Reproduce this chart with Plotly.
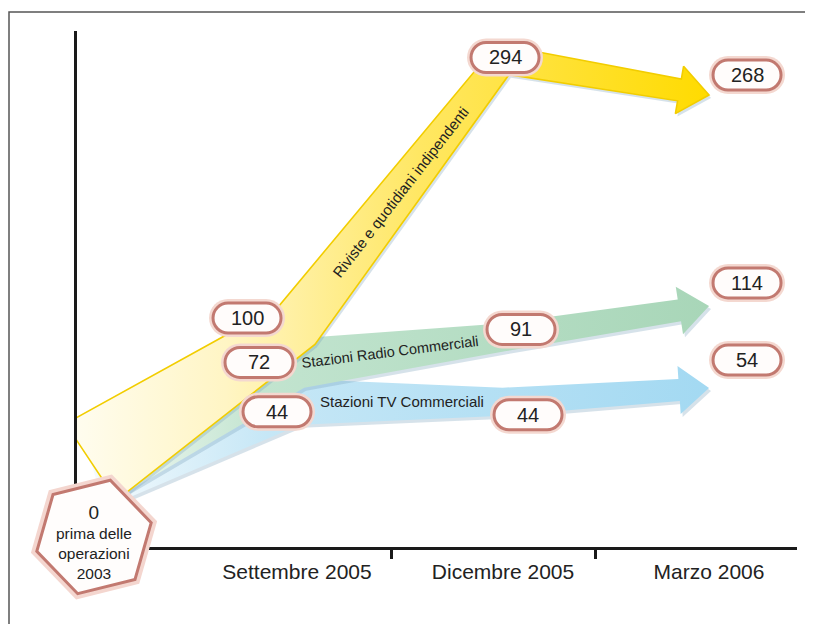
import math
import plotly.graph_objects as go

# data
categories = ["Settembre 2005", "Dicembre 2005", "Marzo 2006"]
x_pos = [0, 1, 2, 3]          # 0 = prima delle operazioni (2003)
riviste = [0, 100, 294, 268]
radio = [0, 72, 91, 114]
tv = [0, 44, 44, 54]
series_names = ["Riviste e quotidiani indipendenti",
                "Stazioni Radio Commerciali",
                "Stazioni TV Commerciali"]
origin_text = ["0", "prima delle", "operazioni", "2003"]

# layout / style (page has an 8px body margin)
W, H = 805, 616
ML, MR, MT, MB = 69, 16, 23, 77
PW, PH = W - ML - MR, H - MT - MB
xr = [-0.068, 3.427]
yr = [-62.1, 314.8]
sx = PW / (xr[1] - xr[0])
sy = PH / (yr[1] - yr[0])
FONT = "Liberation Sans, Arial, Helvetica, sans-serif"

band_widths = [[92, 52, 28, 22], [88, 50, 28, 22], [96, 46, 28, 22]]
head_w, head_len = 48, 30
band_scales = [
    [[0, "#fffdf2"], [0.25, "#fff5c4"], [0.55, "#ffe763"], [1, "#ffdb00"]],
    [[0, "#fbfdfc"], [0.3, "#c2e4cf"], [1, "#a8d6b8"]],
    [[0, "#f8fcfe"], [0.3, "#c6e7f6"], [1, "#a3d9f2"]],
]
band_edge = ["#f2cd00", None, None]
label_dx = [[0, -50, 2, 38], [0, -38, 18, 38], [0, -20, 25, 38]]
label_dy = [[0, 7, 2, 20], [0, 1, 8, 23], [0, -10, -13, 28]]
name_frac = [0.5, 0.45, 0.51]
name_size = [15, 14.5, 15]
sep_ticks = [1.46, 2.45]


def band_polygon(xs, ys, widths):
    P = [(x * sx, y * sy) for x, y in zip(xs, ys)]
    dirs = []
    for i in range(len(P) - 1):
        dx, dy = P[i + 1][0] - P[i][0], P[i + 1][1] - P[i][1]
        L = math.hypot(dx, dy)
        dirs.append((dx / L, dy / L))
    normals = [(-d[1], d[0]) for d in dirs]
    tip = P[-1]
    base = (tip[0] - dirs[-1][0] * head_len, tip[1] - dirs[-1][1] * head_len)
    centre = P[:-1] + [base]
    upper, lower = [], []
    for i, c in enumerate(centre):
        if i == 0:
            n, s = normals[0], 1
        elif i == len(centre) - 1:
            n, s = normals[-1], 1
        else:
            a, b = normals[i - 1], normals[i]
            mx, my = a[0] + b[0], a[1] + b[1]
            m = math.hypot(mx, my)
            n = (mx / m, my / m)
            s = 1 / (n[0] * a[0] + n[1] * a[1])
        h = widths[i] / 2 * s
        upper.append((c[0] + n[0] * h, c[1] + n[1] * h))
        lower.append((c[0] - n[0] * h, c[1] - n[1] * h))
    nl = normals[-1]
    hu = (base[0] + nl[0] * head_w / 2, base[1] + nl[1] * head_w / 2)
    hl = (base[0] - nl[0] * head_w / 2, base[1] - nl[1] * head_w / 2)
    poly = upper + [hu, tip, hl] + lower[::-1] + [upper[0]]
    return [p[0] / sx for p in poly], [p[1] / sy for p in poly]


def pill_path(cx, cy, w, h):
    r = h / 2
    k = 0.5523 * r
    l, rr = cx - w / 2 + r, cx + w / 2 - r
    return (f"M{l},{cy + r} L{rr},{cy + r} "
            f"C{rr + k},{cy + r} {cx + w / 2},{cy + k} {cx + w / 2},{cy} "
            f"C{cx + w / 2},{cy - k} {rr + k},{cy - r} {rr},{cy - r} "
            f"L{l},{cy - r} "
            f"C{l - k},{cy - r} {cx - w / 2},{cy - k} {cx - w / 2},{cy} "
            f"C{cx - w / 2},{cy + k} {l - k},{cy + r} {l},{cy + r} Z")


def hex_path(cx, cy, r, rot=14):
    pts = []
    for k in range(6):
        a = math.radians(rot + 60 * k)
        pts.append((cx + r * math.cos(a), cy + r * math.sin(a)))
    return "M" + " L".join(f"{p[0]:.1f},{p[1]:.1f}" for p in pts) + " Z"


fig = go.Figure()
shapes = []
annotations = []
all_series = [riviste, radio, tv]

# draw bottom band first so the yellow fan sits on top near the origin
for si in reversed(range(len(all_series))):
    vals = all_series[si]
    px_, py_ = band_polygon(x_pos, vals, band_widths[si])
    fig.add_trace(go.Scatter(
        x=[v + 2 / sx for v in px_], y=[v - 3 / sy for v in py_],
        fill="toself", mode="lines", line=dict(width=0),
        fillcolor="rgba(120,160,185,0.3)", hoverinfo="skip"))
    edge = band_edge[si]
    fig.add_trace(go.Scatter(
        x=px_, y=py_, fill="toself", mode="lines",
        line=dict(width=1.6 if edge else 0, color=edge or "rgba(0,0,0,0)"),
        fillgradient=dict(type="horizontal", colorscale=band_scales[si]),
        name=series_names[si], hoverinfo="name"))

for si, vals in enumerate(all_series):
    for i in range(1, len(vals)):
        dx, dy = label_dx[si][i], label_dy[si][i]
        shapes.append(dict(type="path", xref="x", yref="y",
                           xsizemode="pixel", ysizemode="pixel",
                           xanchor=x_pos[i], yanchor=vals[i],
                           path=pill_path(dx, dy, 76, 38),
                           fillcolor="#f4d8d0", line=dict(width=0)))
        shapes.append(dict(type="path", xref="x", yref="y",
                           xsizemode="pixel", ysizemode="pixel",
                           xanchor=x_pos[i], yanchor=vals[i],
                           path=pill_path(dx, dy, 68, 30),
                           fillcolor="#fffcfb", line=dict(color="#c27970", width=3)))
        annotations.append(dict(x=x_pos[i], y=vals[i], xshift=dx, yshift=dy,
                                text=str(vals[i]), showarrow=False,
                                font=dict(size=20, color="#222", family=FONT)))
    # series name along Sept -> Dec segment
    f = name_frac[si]
    x1, y1, x2, y2 = x_pos[1], vals[1], x_pos[2], vals[2]
    ang = math.degrees(math.atan2((y2 - y1) * sy, (x2 - x1) * sx))
    annotations.append(dict(x=x1 + (x2 - x1) * f, y=y1 + (y2 - y1) * f,
                            text=series_names[si], showarrow=False,
                            textangle=-ang,
                            font=dict(size=name_size[si], color="#222", family=FONT)))

# origin hexagon (paper anchor derived from the data origin, so it is not clipped)
ox = (x_pos[0] - xr[0]) / (xr[1] - xr[0])
oy = (riviste[0] - yr[0]) / (yr[1] - yr[0])
for r, fc, ln in [(65, "#f4d6cf", dict(width=0)),
                  (59, "#fffdfc", dict(color="#c27970", width=3))]:
    shapes.append(dict(type="path", xref="paper", yref="paper",
                       xsizemode="pixel", ysizemode="pixel",
                       xanchor=ox, yanchor=oy, path=hex_path(3, -75, r),
                       fillcolor=fc, line=ln))
annotations.append(dict(x=x_pos[0], y=riviste[0], xshift=3, yshift=-80,
                        text=f"<span style='font-size:19px'>{origin_text[0]}</span><br>"
                             + "<br>".join(origin_text[1:]),
                        showarrow=False,
                        font=dict(size=15.5, color="#222", family=FONT)))

# outer frame
shapes.append(dict(type="rect", xref="paper", yref="paper", layer="below",
                   x0=-(ML - 1) / PW, x1=1.2, y0=-0.3, y1=1 + (MT - 4) / PH,
                   line=dict(color="#555", width=1.5)))

fig.update_layout(
    width=W, height=H,
    margin=dict(l=ML, r=MR, t=MT, b=MB),
    plot_bgcolor="white", paper_bgcolor="white",
    showlegend=False,
    font=dict(family=FONT),
    shapes=shapes, annotations=annotations,
    xaxis=dict(range=xr, showgrid=False, zeroline=False,
               showline=True, linecolor="#1a1a1a", linewidth=3,
               tickmode="array", tickvals=x_pos[1:], ticktext=categories,
               ticks="", tickfont=dict(size=21, color="#222", family=FONT),
               ticklabelstandoff=4,
               minor=dict(tickmode="array", tickvals=sep_ticks, ticks="outside",
                          ticklen=9, tickwidth=3, tickcolor="#1a1a1a", showgrid=False)),
    yaxis=dict(range=yr, showgrid=False, zeroline=False,
               showline=True, linecolor="#1a1a1a", linewidth=3,
               showticklabels=False, ticks=""),
)

fig.write_html("out.html")
